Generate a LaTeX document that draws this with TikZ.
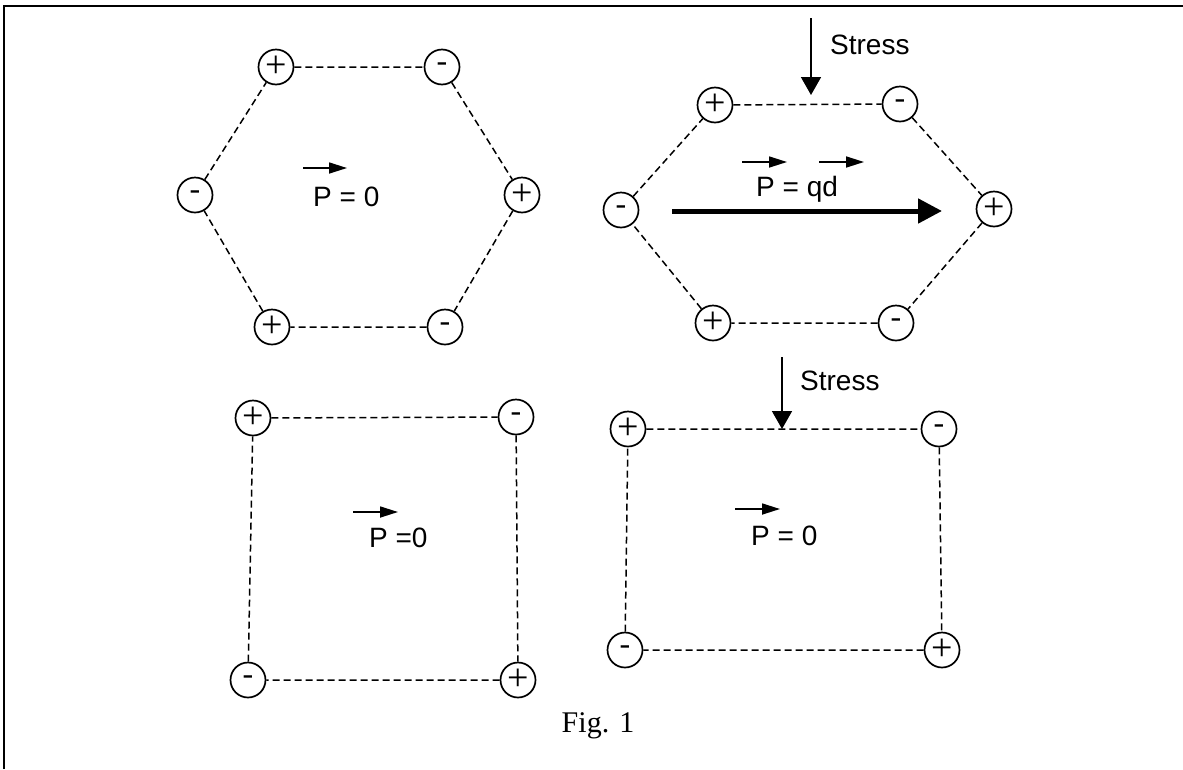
\documentclass[tikz,border=0pt]{standalone}
\usepackage{fontspec}
\setmainfont{Liberation Serif}
\newfontfamily\arialf{Liberation Sans}
\usetikzlibrary{arrows.meta}
\newcommand{\plusmark}{\raisebox{-2.5pt}{\fontsize{38}{38}\selectfont +}}
\newcommand{\minusmark}{\raisebox{-4pt}{\fontsize{32}{32}\selectfont -}}
\begin{document}
\begin{tikzpicture}[x=1pt,y=-1pt,
  ion/.style={draw,circle,line width=1.7pt,minimum size=35pt,inner sep=0pt},
  bond/.style={dash pattern=on 7pt off 4pt,line width=1.5pt},
  lbl/.style={anchor=base west,inner sep=0pt,font=\arialf\fontsize{28}{30}\selectfont},
  vec/.style={line width=1.7pt,-{Triangle[length=18pt,width=11pt]}},
  stressarrow/.style={line width=1.7pt,-{Triangle[length=18pt,width=20pt]}},
  bigarrow/.style={line width=5pt,-{Triangle[length=24pt,width=24pt]}},
]
\useasboundingbox (0,0) rectangle (1183,769);
% frame
\coordinate (fb) at (4,769);
\coordinate (fc) at (4,6);
\coordinate (fr) at (1183,6);
\draw[line width=2.2pt] (fb) -- (fc) -- (fr);

% ---- top-left hexagon
\node[ion] (a1) at (276,67) {\plusmark};
\node[ion] (a2) at (442,67) {\minusmark};
\node[ion] (a3) at (522,195) {\plusmark};
\node[ion] (a4) at (445,327) {\minusmark};
\node[ion] (a5) at (272,327) {\plusmark};
\node[ion] (a6) at (195,195) {\minusmark};
\draw[bond] (a1) -- (a2) -- (a3) -- (a4) -- (a5) -- (a6) -- (a1);
\coordinate (v1s) at (303,168);
\coordinate (v1e) at (347,168);
\draw[vec] (v1s) -- (v1e);
\node[lbl] (t1) at (313,206) {P = 0};

% ---- top-right hexagon
\node[ion] (b1) at (715,105) {\plusmark};
\node[ion] (b2) at (900,104) {\minusmark};
\node[ion] (b3) at (994,209) {\plusmark};
\node[ion] (b4) at (896,323) {\minusmark};
\node[ion] (b5) at (713,323) {\plusmark};
\node[ion] (b6) at (621,210) {\minusmark};
\draw[bond] (b1) -- (b2) -- (b3) -- (b4) -- (b5) -- (b6) -- (b1);
\coordinate (s1a) at (811,18);
\coordinate (s1b) at (811,95);
\draw[stressarrow] (s1a) -- (s1b);
\node[lbl] (st1) at (830,54) {Stress};
\coordinate (v2s) at (742,162);
\coordinate (v2e) at (787,162);
\draw[vec] (v2s) -- (v2e);
\coordinate (v3s) at (819,162);
\coordinate (v3e) at (864,162);
\draw[vec] (v3s) -- (v3e);
\node[lbl] (t2) at (756,196) {P = qd};
\coordinate (bgs) at (672,211);
\coordinate (bge) at (942,211);
\draw[bigarrow] (bgs) -- (bge);

% ---- bottom-left square
\node[ion] (c1) at (253,418) {\plusmark};
\node[ion] (c2) at (516,417) {\minusmark};
\node[ion] (c3) at (518,680) {\plusmark};
\node[ion] (c4) at (248,680) {\minusmark};
\draw[bond] (c1) -- (c2) -- (c3) -- (c4) -- (c1);
\coordinate (v4s) at (353,512);
\coordinate (v4e) at (398,512);
\draw[vec] (v4s) -- (v4e);
\node[lbl] (t3) at (369,547) {P =0};

% ---- bottom-right square
\node[ion] (d1) at (628,429) {\plusmark};
\node[ion] (d2) at (939,429) {\minusmark};
\node[ion] (d3) at (942,650) {\plusmark};
\node[ion] (d4) at (625,650) {\minusmark};
\draw[bond] (d1) -- (d2) -- (d3) -- (d4) -- (d1);
\coordinate (s2a) at (782,357);
\coordinate (s2b) at (782,429);
\draw[stressarrow] (s2a) -- (s2b);
\node[lbl] (st2) at (800,390) {Stress};
\coordinate (v5s) at (735,509);
\coordinate (v5e) at (780,509);
\draw[vec] (v5s) -- (v5e);
\node[lbl] (t4) at (751,545) {P = 0};

% caption
\node[anchor=base,inner sep=0pt,font=\fontsize{30}{30}\selectfont] (cap) at (598,732) {Fig. 1};
\end{tikzpicture}
\end{document}
